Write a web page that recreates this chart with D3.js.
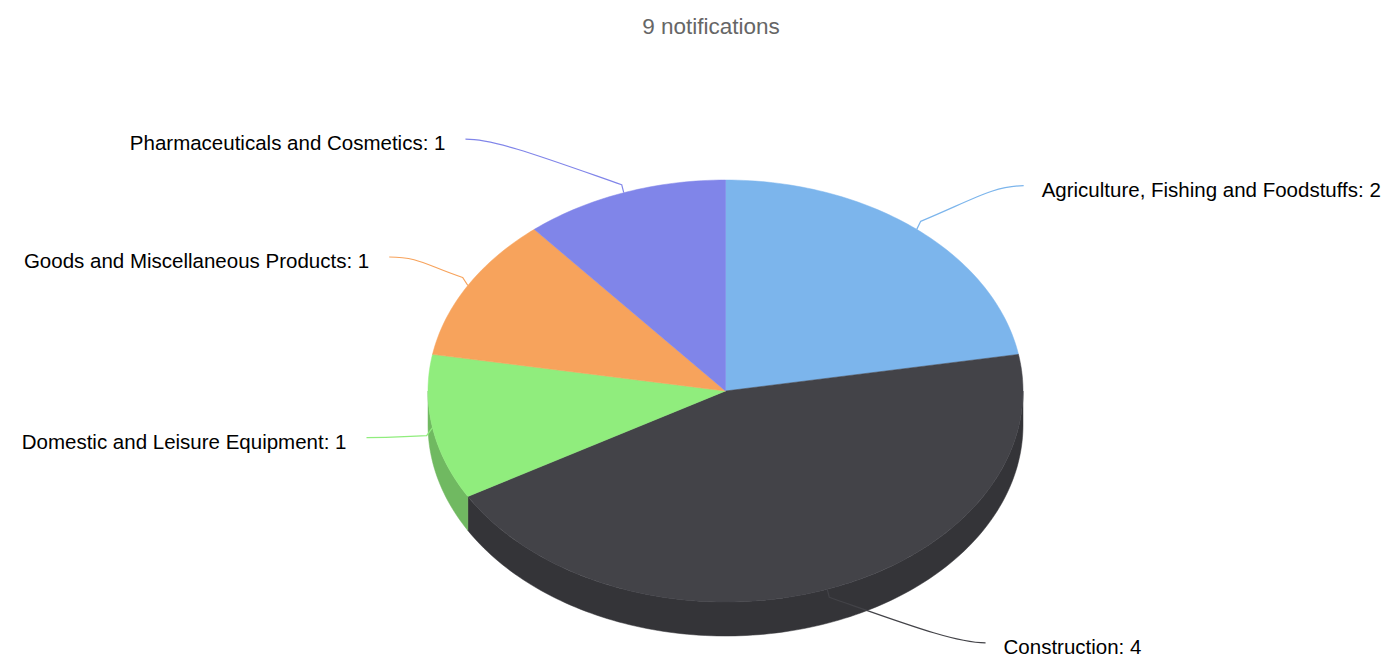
<!DOCTYPE html>
<html><head><meta charset="utf-8">
<script src="https://cdn.jsdelivr.net/npm/d3@7"></script>
<style>body{margin:0;background:#fff}text{font-family:"Liberation Sans",Arial,sans-serif}</style>
</head><body><svg id="chart"></svg>
<script>
var categories = ['Agriculture, Fishing and Foodstuffs', 'Construction', 'Domestic and Leisure Equipment', 'Goods and Miscellaneous Products', 'Pharmaceuticals and Cosmetics'];
var values = [2, 4, 1, 1, 1];
var colors = ['#7cb5ec', '#434348', '#90ed7d', '#f7a35c', '#8085e9'];
var title = '9 notifications';

var width = 1394, height = 654;
var svg = d3.select('#chart').attr('width', width).attr('height', height);
var cx = 725.5, cy = 391, rx = 297.5, ry = 211, depth = 34;
var labelRy = 268, labelR = 362;

svg.append('text').attr('x', 711).attr('y', 34).attr('text-anchor', 'middle')
  .attr('fill', '#666').style('font-size', '22.5px').text(title);

var pie = d3.pie().sort(null).startAngle(0).endAngle(2 * Math.PI)(values);
// angle a (0 = top, clockwise) -> screen parameter t
function tOf(a) { return a - Math.PI / 2; }
function pt(t, dy) { return [cx + rx * Math.cos(t), cy + ry * Math.sin(t) + (dy || 0)]; }
function arcPts(t1, t2, dy) {
  var n = Math.max(2, Math.ceil(Math.abs(t2 - t1) / 0.02)), out = [];
  for (var i = 0; i <= n; i++) out.push(pt(t1 + (t2 - t1) * i / n, dy));
  return out;
}
var line = d3.line();

// side walls (front half only)
pie.forEach(function (d, i) {
  var t1 = Math.max(tOf(d.startAngle), 0), t2 = Math.min(tOf(d.endAngle), Math.PI);
  if (t2 <= t1) return;
  var p = arcPts(t1, t2, 0).concat(arcPts(t2, t1, depth));
  var c = d3.color(colors[i]).darker(0.7);
  svg.append('path').attr('d', line(p) + 'Z').attr('fill', c).attr('stroke', c).attr('stroke-width', 0.5);
});
// top faces
pie.forEach(function (d, i) {
  var p = [[cx, cy]].concat(arcPts(tOf(d.startAngle), tOf(d.endAngle), 0));
  svg.append('path').attr('d', line(p) + 'Z').attr('fill', colors[i])
    .attr('stroke', colors[i]).attr('stroke-width', 0.5);
});
// labels
pie.forEach(function (d, i) {
  var t = tOf((d.startAngle + d.endAngle) / 2);
  var e = pt(t, 0);
  var dy = labelRy * Math.sin(t);
  var right = Math.cos(t) >= 0;
  var lx = cx + (right ? 1 : -1) * Math.sqrt(labelR * labelR - dy * dy), ly = cy + dy;
  var m = [e[0] + 6 * Math.cos(t), e[1] - 8 * (Math.sin(t) < 0 ? 1 : -1)];
  svg.append('path')
    .attr('d', 'M' + e + 'L' + m + 'C' + [m[0] + (lx - m[0]) * 0.5, m[1] + (ly - m[1]) * 0.6] + ' ' + [lx - (right ? 30 : -30), ly] + ' ' + [lx, ly])
    .attr('fill', 'none').attr('stroke', colors[i]).attr('stroke-width', 1.2);
  svg.append('text').attr('x', lx + (right ? 18 : -20)).attr('y', ly + 11)
    .attr('text-anchor', right ? 'start' : 'end').attr('fill', '#000').style('font-size', '20.5px')
    .text(categories[i] + ': ' + values[i]);
});
</script></body></html>
